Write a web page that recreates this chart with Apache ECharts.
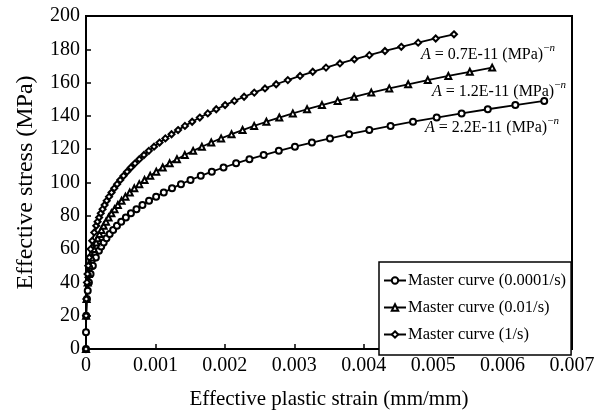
<!DOCTYPE html>
<html>
<head>
<meta charset="utf-8">
<script src="https://cdn.jsdelivr.net/npm/echarts@6/dist/echarts.min.js"></script>
<style>html,body{margin:0;padding:0;background:#fff;}#c{width:605px;height:415px;}</style>
</head>
<body>
<div id="c"></div>
<script>
// Master curve (0.0001/s)
const stress_slow = [0,10,20,30,35,40,45,50,55,59,61.5,64,66.5,69,71.5,74,76.5,79,81.5,84,86.5,89,91.5,94,96.5,99,101.5,104,106.5,109,111.5,114,116.5,119,121.5,124,126.5,129,131.5,134,136.5,139,141.5,144,146.5,149];
const strain_slow = [0,0.0000002,0.0000029,0.0000138,0.000025,0.0000418,0.0000657,0.0000986,0.000142,0.000186,0.000219,0.000255,0.000295,0.000341,0.000391,0.000446,0.000507,0.000574,0.000647,0.000727,0.000813,0.000908,0.001010,0.001120,0.001239,0.001368,0.001505,0.001653,0.001812,0.001981,0.002162,0.002354,0.002559,0.002777,0.003009,0.003254,0.003514,0.003789,0.004080,0.004387,0.004710,0.005051,0.005410,0.005787,0.006184,0.0066];
// Master curve (0.01/s)
const stress_mid = [0,20,30,40,45,50,55,60,64,66.5,69,71.5,74,76.5,79,81.5,84,86.5,89,91.5,94,96.5,99,101.5,104,106.5,109,111.5,114,116.5,119,121.5,124,126.5,129,131.5,134,136.5,139,141.5,144,146.5,149,151.5,154,156.5,159,161.5,164,166.5,169];
const strain_mid = [0,0.0000018,0.0000082,0.0000245,0.0000383,0.0000572,0.0000821,0.000114,0.000146,0.000169,0.000194,0.000223,0.000254,0.000288,0.000325,0.000366,0.000411,0.000459,0.000512,0.000568,0.000630,0.000696,0.000767,0.000843,0.000925,0.001012,0.001105,0.001205,0.001310,0.001423,0.001543,0.001669,0.001804,0.001946,0.002096,0.002255,0.002422,0.002598,0.002784,0.002979,0.003184,0.003399,0.003625,0.003861,0.004109,0.004368,0.004640,0.004923,0.005219,0.005528,0.00585];
// Master curve (1/s)
const stress_fast = [0,20,30,40,45,50,55,60,65,70,74,76.5,79,81.5,84,86.5,89,91.5,94,96.5,99,101.5,104,106.5,109,111.5,114,116.5,119,121.5,124,126.5,129,131.5,134,136.5,139,141.5,144,146.5,149,151.5,154,156.5,159,161.5,164,166.5,169,171.5,174,176.5,179,181.5,184,186.5,189];
const strain_fast = [0,0.0000011,0.0000047,0.0000141,0.000022,0.000033,0.0000475,0.0000662,0.0000898,0.000119,0.000147,0.000167,0.000189,0.000213,0.000239,0.000268,0.000298,0.000332,0.000368,0.000407,0.000448,0.000493,0.000541,0.000592,0.000647,0.000706,0.000768,0.000835,0.000905,0.000980,0.001059,0.001143,0.001232,0.001326,0.001425,0.001529,0.001639,0.001754,0.001876,0.002003,0.002137,0.002277,0.002424,0.002578,0.002739,0.002907,0.003083,0.003266,0.003457,0.003657,0.003865,0.004081,0.004306,0.004541,0.004784,0.005037,0.0053];

const seriesNames = ['Master curve (0.0001/s)','Master curve (0.01/s)','Master curve (1/s)'];
const annotationValues = ['0.7E-11','1.2E-11','2.2E-11'];

const FONT = 'Liberation Serif';
function pairs(xs, ys){ return xs.map((x,i)=>[x, ys[i]]); }

const chart = echarts.init(document.getElementById('c'), null, {renderer:'canvas'});

function mkSeries(name, data, symbol, size){
  return {
    name, type:'line', data, symbol, symbolSize:size, showSymbol:true,
    lineStyle:{color:'#000', width:1.8},
    itemStyle:{color:'#000', borderColor:'#000', borderWidth:0.9},
    animation:false, z:3
  };
}

function annText(val){
  return '{i|A}{n| = ' + val + ' (MPa)}{s|\u2212}{si|n}';
}
const rich = {
  i:{fontFamily:FONT, fontStyle:'italic', fontSize:16, lineHeight:24, verticalAlign:'middle', fill:'#000'},
  n:{fontFamily:FONT, fontSize:16, lineHeight:24, verticalAlign:'middle', fill:'#000'},
  s:{fontFamily:FONT, fontSize:11, lineHeight:13, verticalAlign:'top', fill:'#000'},
  si:{fontFamily:FONT, fontSize:11, fontStyle:'italic', lineHeight:13, verticalAlign:'top', fill:'#000'}
};

const option = {
  backgroundColor:'#fff',
  animation:false,
  textStyle:{fontFamily:FONT, color:'#000'},
  grid:{left:86, right:33, top:16, bottom:60, show:true, borderColor:'#000', borderWidth:2, containLabel:false},
  xAxis:{
    type:'value', min:0, max:0.007, interval:0.001,
    name:'Effective plastic strain (mm/mm)', nameLocation:'middle', nameGap:40,
    nameTextStyle:{fontFamily:FONT, fontSize:21, color:'#000'},
    axisLine:{show:true, lineStyle:{color:'#000', width:2}},
    axisTick:{show:true, inside:true, length:5, lineStyle:{color:'#000', width:1.5}},
    axisLabel:{fontFamily:FONT, fontSize:20, color:'#000', margin:7,
      formatter:v=> v===0 ? '0' : v.toFixed(3)},
    splitLine:{show:false}
  },
  yAxis:{
    type:'value', min:0, max:200, interval:20,
    name:'Effective stress (MPa)', nameLocation:'middle', nameGap:48,
    nameTextStyle:{fontFamily:FONT, fontSize:24, color:'#000'},
    axisLine:{show:true, lineStyle:{color:'#000', width:2}},
    axisTick:{show:true, inside:true, length:5, lineStyle:{color:'#000', width:1.5}},
    axisLabel:{fontFamily:FONT, fontSize:20, color:'#000', margin:6},
    splitLine:{show:false}
  },
  legend:{
    orient:'vertical', left:379, top:262,
    padding:[10,5,12,4], itemGap:10, itemWidth:22, itemHeight:8,
    backgroundColor:'#fff', borderColor:'#000', borderWidth:1.5,
    textStyle:{fontFamily:FONT, fontSize:16.5, lineHeight:16, color:'#000', padding:[0,0,0,-3]},
    data:seriesNames, z:10
  },
  series:[
    mkSeries(seriesNames[0], pairs(strain_slow, stress_slow), 'emptyCircle', 6),
    mkSeries(seriesNames[1], pairs(strain_mid, stress_mid), 'emptyTriangle', 6),
    mkSeries(seriesNames[2], pairs(strain_fast, stress_fast), 'emptyDiamond', 6)
  ],
  graphic:[
    {type:'text', x:421, y:55, z:20, style:{text:annText(annotationValues[0]), rich, verticalAlign:'middle', fontFamily:FONT, fontSize:16, fill:'#000'}},
    {type:'text', x:432, y:92, z:20, style:{text:annText(annotationValues[1]), rich, verticalAlign:'middle', fontFamily:FONT, fontSize:16, fill:'#000'}},
    {type:'text', x:425, y:128, z:20, style:{text:annText(annotationValues[2]), rich, verticalAlign:'middle', fontFamily:FONT, fontSize:16, fill:'#000'}}
  ]
};
chart.setOption(option);
</script>
</body>
</html>
